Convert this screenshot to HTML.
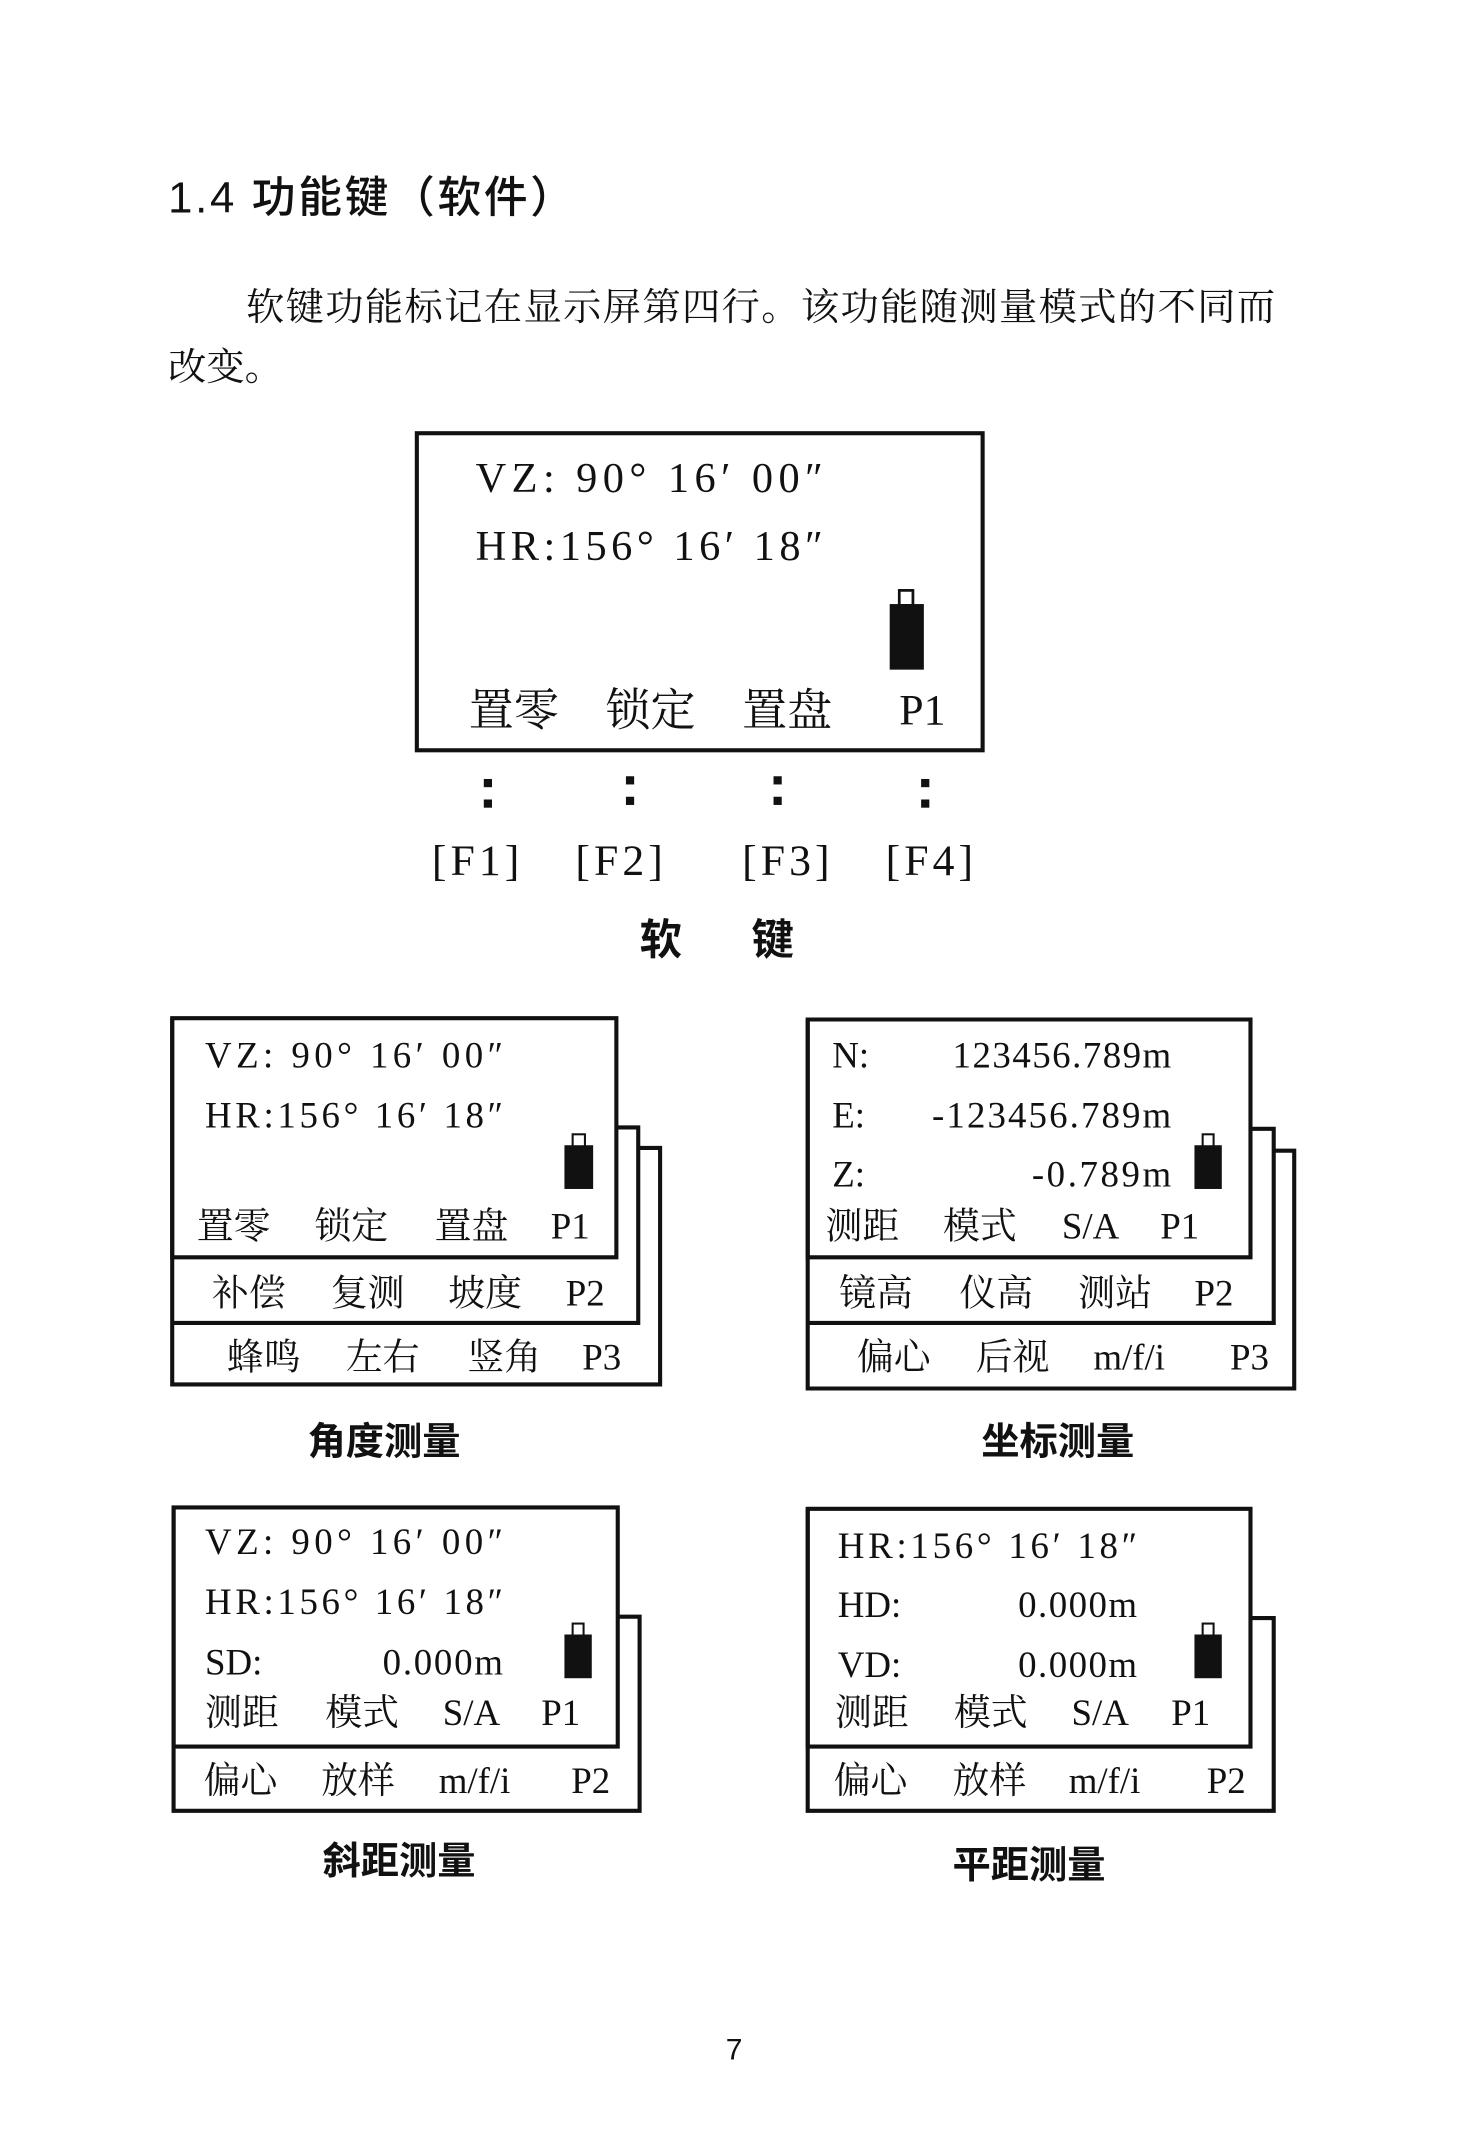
<!DOCTYPE html>
<html><head><meta charset="utf-8"><style>
html,body{margin:0;padding:0;background:#fff;}
svg{display:block}
.s{font-family:"Liberation Serif","Noto Serif CJK SC",serif;fill:#111}
.b{font-family:"Liberation Sans","Noto Sans CJK SC",sans-serif;font-weight:bold;fill:#111}
</style></head><body>
<svg width="1476" height="2156" viewBox="0 0 1080 1577.6" xmlns="http://www.w3.org/2000/svg">
<g dominant-baseline="central">
<text class="b" x="123" y="145" font-size="32" style="font-weight:500" textLength="297" lengthAdjust="spacing">1.4 功能键（软件）</text>
<text class="s" x="180" y="222" font-size="28" style="font-family:'Noto Serif CJK SC',serif" textLength="753" lengthAdjust="spacing">软键功能标记在显示屏第四行。该功能随测量模式的不同而</text>
<text class="s" x="123" y="266" font-size="28" style="font-family:'Noto Serif CJK SC',serif">改变。</text>

<rect x="305" y="317" width="414" height="232" fill="none" stroke="#111" stroke-width="3"/>
<text class="s" x="348" y="350" font-size="31" textLength="254" lengthAdjust="spacing">VZ: 90° 16′ 00″</text>
<text class="s" x="348" y="400" font-size="31" textLength="254" lengthAdjust="spacing">HR:156° 16′ 18″</text>
<rect x="651" y="442" width="25" height="48" fill="#111"/>
<rect x="658" y="432" width="10" height="11" fill="none" stroke="#111" stroke-width="2"/>
<text class="s" x="343" y="520" font-size="33">置零</text>
<text class="s" x="443" y="520" font-size="33">锁定</text>
<text class="s" x="543" y="520" font-size="33">置盘</text>
<text class="s" x="658" y="520" font-size="32">P1</text>
<g fill="#111">
<rect x="354" y="570" width="6" height="6"/><rect x="354" y="585" width="6" height="6"/>
<rect x="458" y="568" width="6" height="6"/><rect x="458" y="583" width="6" height="6"/>
<rect x="566" y="568" width="6" height="6"/><rect x="566" y="583" width="6" height="6"/>
<rect x="674" y="570" width="6" height="6"/><rect x="674" y="585" width="6" height="6"/>
</g>
<text class="s" x="316" y="630" font-size="32" textLength="64" lengthAdjust="spacing">[F1]</text>
<text class="s" x="421" y="630" font-size="32" textLength="64" lengthAdjust="spacing">[F2]</text>
<text class="s" x="543" y="630" font-size="32" textLength="64" lengthAdjust="spacing">[F3]</text>
<text class="s" x="648" y="630" font-size="32" textLength="64" lengthAdjust="spacing">[F4]</text>
<text class="b" x="468" y="688" font-size="31">软</text>
<text class="b" x="550" y="688" font-size="31">键</text>

<g fill="none" stroke="#111" stroke-width="3">
<path d="M126 745 H451 V920 H126 Z"/>
<path d="M451 825 H467 V968 H126"/>
<path d="M467 840 H483 V1013 H126 V745"/>
<path d="M591 746 H915 V920 H591 Z"/>
<path d="M915 826 H932 V968 H591"/>
<path d="M932 842 H947 V1016 H591 V746"/>
<path d="M127 1103 H452 V1278 H127 Z"/>
<path d="M452 1183 H468 V1325 H127 V1103"/>
<path d="M591 1104 H915 V1278 H591 Z"/>
<path d="M915 1184 H932 V1325 H591 V1104"/>
</g>
<g fill="#111">
<rect x="413" y="838" width="21" height="32"/><rect x="419" y="830" width="9" height="9" fill="none" stroke="#111" stroke-width="1.5"/>
<rect x="874" y="838" width="20" height="32"/><rect x="880" y="830" width="8" height="9" fill="none" stroke="#111" stroke-width="1.5"/>
<rect x="413" y="1196" width="20" height="32"/><rect x="419" y="1188" width="8" height="9" fill="none" stroke="#111" stroke-width="1.5"/>
<rect x="874" y="1196" width="20" height="32"/><rect x="880" y="1188" width="8" height="9" fill="none" stroke="#111" stroke-width="1.5"/>
</g>

<g class="s" font-size="27">
<text class="s" x="150" y="772" textLength="218" lengthAdjust="spacing">VZ: 90° 16′ 00″</text>
<text class="s" x="150" y="816" textLength="218" lengthAdjust="spacing">HR:156° 16′ 18″</text>
<text class="s" x="144" y="897">置零</text><text class="s" x="230" y="897">锁定</text><text class="s" x="318" y="897">置盘</text><text class="s" x="403" y="897">P1</text>
<text class="s" x="155" y="946">补偿</text><text class="s" x="242" y="946">复测</text><text class="s" x="328" y="946">坡度</text><text class="s" x="414" y="946">P2</text>
<text class="s" x="166" y="993">蜂鸣</text><text class="s" x="253" y="993">左右</text><text class="s" x="342" y="993">竖角</text><text class="s" x="426" y="993">P3</text>

<text class="s" x="609" y="772">N:</text><text class="s" x="697" y="772" textLength="160" lengthAdjust="spacing">123456.789m</text>
<text class="s" x="609" y="816">E:</text><text class="s" x="682" y="816" textLength="175" lengthAdjust="spacing">-123456.789m</text>
<text class="s" x="609" y="859">Z:</text><text class="s" x="755" y="859" textLength="102" lengthAdjust="spacing">-0.789m</text>
<text class="s" x="604" y="897">测距</text><text class="s" x="690" y="897">模式</text><text class="s" x="777" y="897">S/A</text><text class="s" x="849" y="897">P1</text>
<text class="s" x="614" y="946">镜高</text><text class="s" x="702" y="946">仪高</text><text class="s" x="789" y="946">测站</text><text class="s" x="874" y="946">P2</text>
<text class="s" x="627" y="993">偏心</text><text class="s" x="714" y="993">后视</text><text class="s" x="800" y="993">m/f/i</text><text class="s" x="900" y="993">P3</text>

<text class="s" x="150" y="1128" textLength="218" lengthAdjust="spacing">VZ: 90° 16′ 00″</text>
<text class="s" x="150" y="1172" textLength="218" lengthAdjust="spacing">HR:156° 16′ 18″</text>
<text class="s" x="150" y="1216">SD:</text><text class="s" x="280" y="1216" textLength="88" lengthAdjust="spacing">0.000m</text>
<text class="s" x="150" y="1253">测距</text><text class="s" x="238" y="1253">模式</text><text class="s" x="324" y="1253">S/A</text><text class="s" x="396" y="1253">P1</text>
<text class="s" x="149" y="1303">偏心</text><text class="s" x="235" y="1303">放样</text><text class="s" x="321" y="1303">m/f/i</text><text class="s" x="418" y="1303">P2</text>

<text class="s" x="613" y="1131" textLength="219" lengthAdjust="spacing">HR:156° 16′ 18″</text>
<text class="s" x="613" y="1174">HD:</text><text class="s" x="745" y="1174" textLength="87" lengthAdjust="spacing">0.000m</text>
<text class="s" x="613" y="1218">VD:</text><text class="s" x="745" y="1218" textLength="87" lengthAdjust="spacing">0.000m</text>
<text class="s" x="611" y="1253">测距</text><text class="s" x="698" y="1253">模式</text><text class="s" x="784" y="1253">S/A</text><text class="s" x="857" y="1253">P1</text>
<text class="s" x="610" y="1303">偏心</text><text class="s" x="697" y="1303">放样</text><text class="s" x="782" y="1303">m/f/i</text><text class="s" x="883" y="1303">P2</text>
</g>

<text class="b" x="225" y="1055" font-size="28">角度测量</text>
<text class="b" x="718" y="1055" font-size="28">坐标测量</text>
<text class="b" x="236" y="1362" font-size="28">斜距测量</text>
<text class="b" x="697" y="1365" font-size="28">平距测量</text>
<text class="b" x="531" y="1500" font-size="22" style="font-weight:normal">7</text>
</g>
</svg>
</body></html>
